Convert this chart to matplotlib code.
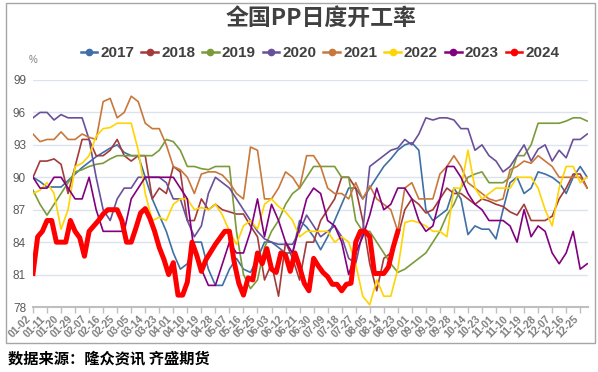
import numpy as np
import matplotlib
matplotlib.use("Agg")
import matplotlib.pyplot as plt
from matplotlib.lines import Line2D
from matplotlib.patches import Rectangle

# tick labels (every 9th trading-day category)
tick_labels = ["01-02", "01-11", "01-20", "01-29", "02-07", "02-16", "02-25", "03-05",
               "03-14", "03-23", "04-01", "04-10", "04-19", "04-28", "05-07", "05-16",
               "05-25", "06-03", "06-12", "06-21", "06-30", "07-09", "07-18", "07-27",
               "08-05", "08-14", "08-23", "09-01", "09-10", "09-19", "09-28", "10-14",
               "10-23", "11-01", "11-10", "11-19", "11-28", "12-07", "12-16", "12-25"]
yticks = [78, 81, 84, 87, 90, 93, 96, 99]

# readings taken every 4.5 categories (2017-2023) and every 3 categories (2024)
s2017 = [90, 89.6, 89.1, 89.1, 89.1, 89.7, 90.3, 90.9, 91.4, 91.9, 92.3, 92.7, 93, 92.3, 92, 92,
         90, 88, 86.5, 85, 83, 81.5, 82, 84, 84, 81.5, 80, 80, 81.5, 82.5, 81.5, 81.2,
         82.5, 84, 84, 83.5, 83, 83, 86, 85.4, 84.5, 83.3, 84.5, 86, 87.5, 89, 89, 88,
         89, 90, 91, 91.7, 92.5, 93, 93.2, 92.5, 87, 86, 86.5, 87, 89, 88, 84.7, 85.5,
         85.2, 85.2, 84.3, 87, 89.5, 90, 88.5, 89, 90.5, 90.3, 90, 89.5, 88.5, 90, 91, 90]
s2018 = [90, 91.5, 91.5, 91.7, 91.2, 88.5, 91, 93.5, 93.5, 92, 92, 92.5, 93.5, 92, 91.5, 92,
         92, 88, 89, 88.5, 91, 90.5, 86, 86, 88, 87, 87.5, 87, 86.8, 86.6, 86.6, 85.5,
         84.5, 80.5, 82, 79, 84, 82.5, 80.5, 84, 84, 86, 87, 88, 90, 90, 89, 86,
         82, 79.5, 82.5, 83, 84.5, 87, 88, 87.5, 86.7, 87, 88, 89, 88.5, 88.5, 88, 87.5,
         88, 87.8, 87.5, 87.3, 86.8, 86.5, 87.5, 86, 86, 86, 86.4, 88, 89, 90.3, 90.3, 89]
s2019 = [88.8, 87.5, 86.5, 87.5, 88.5, 89.5, 90.5, 90.7, 91, 91.2, 91.3, 91.7, 92, 92, 92, 92,
         92, 92, 92.5, 93.5, 93.3, 92.5, 91, 91, 90.8, 90.7, 91, 91, 91, 85, 81, 79.7,
         80.5, 83.5, 85, 86, 87.5, 88.5, 89, 90, 91, 91, 91, 91, 90, 90, 86, 85,
         85, 84, 83, 82, 81.2, 81.5, 82, 82.5, 83, 84, 85, 86.5, 87.5, 89, 90, 90.3,
         90.5, 89.5, 89.5, 89.5, 90, 92, 92, 93, 95, 95, 95, 95, 95.2, 95.5, 95.5, 95.2]
s2020 = [95.5, 96, 96, 95.3, 95.8, 95.5, 95.5, 95.5, 93.5, 90, 87, 86, 88, 89, 89, 90,
         90, 90, 90, 89.5, 88, 88, 86, 84.5, 85.5, 88.5, 90, 89.5, 89, 88, 87, 86,
         85, 84.3, 84, 83.8, 83.8, 83.8, 85, 86.5, 85.5, 84.5, 85, 85.5, 84.5, 82.5, 82, 85,
         91, 91.5, 92, 92.5, 92.7, 93.5, 93, 94, 95.5, 95.3, 95.5, 95.5, 95.3, 94.5, 94.5, 92.5,
         93, 92, 91.5, 90.5, 91, 92, 93, 91.5, 92.6, 93, 91.5, 92.5, 91.8, 93.5, 93.5, 94]
s2021 = [94, 93.3, 93.5, 93.5, 94.2, 93.5, 93.5, 94, 93.7, 93.5, 97, 97.3, 95.5, 96, 97.5, 97,
         95, 94.5, 94.5, 93, 91, 90.7, 90, 88.5, 90.3, 90.5, 90.5, 90.2, 89.5, 88.5, 88, 92.8,
         92.5, 88, 88, 89, 90.5, 90, 89, 92, 92, 91, 89, 88.5, 88.5, 88, 89.5, 88,
         89.2, 88, 87.5, 87, 85, 89, 89.5, 88, 88, 88, 90.3, 91, 92, 91, 89.5, 89,
         88.5, 88, 87.8, 88, 90.7, 91, 91.5, 91.3, 92, 91.5, 91, 90, 90, 90, 90, 89]
s2022 = [88.5, 88.8, 89.5, 88.5, 85.2, 87, 91, 91.3, 92, 93.8, 94.5, 94.6, 95, 95, 95, 92.5,
         88.5, 86, 86.3, 86, 87.5, 88, 88, 87, 87.2, 87, 87.5, 86.5, 85, 83.8, 85.5, 86,
         85.2, 87.5, 88, 87.3, 86.8, 86, 84.5, 85, 85, 85, 85, 84, 84.5, 84, 82, 79,
         78.2, 80.5, 79, 79, 81.5, 85.8, 86, 85.8, 85.5, 85, 85, 84.5, 89, 89, 92.5, 89,
         88, 88.5, 89, 89, 89, 90, 90, 90, 89, 87, 85.5, 89, 91, 91, 89.5, 90]
s2023 = [90, 89, 89, 90, 90, 89, 88, 88, 90, 87, 85, 85, 85, 85, 88, 89,
         90, 90, 90, 90, 90, 89, 88, 83, 81.5, 80, 80, 82, 84, 83, 83, 85,
         88, 84.5, 87.5, 86, 84, 83, 85.5, 88, 89, 88.5, 86, 85.5, 84, 81, 83, 84.5,
         86.5, 89, 87, 87.5, 89, 89, 88, 86, 85, 85.5, 88, 91, 91, 90, 88.5, 87.5,
         87, 86, 86, 86, 85.5, 84, 87, 84.5, 85.5, 85, 83, 82, 83, 85, 81.5, 82]
s2024 = [81.1, 84.5, 85, 86, 86, 84, 84, 84, 86, 85, 84.4, 82.7, 85, 85.5, 86, 86.6,
         87, 87, 87, 86, 84, 84, 85.3, 86.7, 87.1, 86.2, 85, 83.5, 82.4, 81, 82.1, 79.1,
         79.1, 80.3, 84, 82.8, 81.3, 82.4, 83.1, 83.8, 84.4, 85, 85, 82.2, 80.2, 79.1, 80.7, 80.5,
         83, 82, 83.4, 81.5, 81.2, 83, 82.8, 81.3, 83, 81.7, 80.2, 79.5, 82.5, 81.8, 81.2, 80.8,
         80.1, 80.1, 79.5, 80.1, 80.2, 84, 85, 85, 84.5, 81.1, 81.1, 81.1, 81.7, 83.5, 85]

years = ["2017", "2018", "2019", "2020", "2021", "2022", "2023", "2024"]
colors = ["#3F6FA5", "#A33B3B", "#7B9B3B", "#6A509A", "#C8783A", "#FFD400", "#82007F", "#FF0000"]
series = [s2017, s2018, s2019, s2020, s2021, s2022, s2023, s2024]
steps = [4.5] * 7 + [3]

lab = "Liberation Sans"
cjk = ["Noto Sans CJK SC", "DejaVu Sans"]

fig = plt.figure(figsize=(5.98, 3.72), dpi=100)
fig.patches.append(Rectangle((6 / 598, 1 - 343 / 372), 589 / 598, 340 / 372,
                             transform=fig.transFigure, fill=False, ec="#A6A6A6", lw=1))
ax = fig.add_axes([33 / 598, 1 - 307 / 372, 555 / 598, 227 / 372])

for yr, c, vals, st in zip(years, colors, series, steps):
    x = np.arange(len(vals)) * st
    ax.plot(x, vals, color=c, lw=3.6 if yr == "2024" else 1.2, zorder=3 if yr == "2024" else 2,
            solid_joinstyle="round")

ax.set_xlim(0, 356)
ax.set_ylim(78, 99)
ax.set_yticks(yticks)
ax.set_yticklabels([str(v) for v in yticks], fontsize=8.5, color="#595959", family=lab)
ax.tick_params(axis="y", length=0, pad=5)
ax.set_xticks(np.arange(len(tick_labels)) * 9)
ax.set_xticklabels(tick_labels, rotation=45, ha="right", fontsize=7.5, color="#7F7F7F",
                   fontweight="bold", family=lab)
ax.tick_params(axis="x", length=4, width=1, color="#BFBFBF", pad=1)
for sp in ["left", "right", "top"]:
    ax.spines[sp].set_visible(False)
ax.spines["bottom"].set_color("#BFBFBF")
ax.spines["bottom"].set_linewidth(1.5)
ax.grid(axis="y", color="#DCE3EE", lw=1)
ax.set_axisbelow(True)

fig.text(33 / 598, 1 - 60 / 372, "%", fontsize=7, color="#7F7F7F", ha="center", va="center",
         family=lab)
fig.text(321 / 598, 1 - 18 / 372, "全国PP日度开工率", fontsize=16.5, fontweight="bold",
         color="#404040", ha="center", va="center", family=cjk)

handles = [Line2D([], [], color=c, lw=1.8, marker="o", markersize=4.5) for c in colors]
fig.legend(handles, years, loc="center", bbox_to_anchor=(320 / 598, 1 - 53 / 372), ncol=8,
           frameon=False, handlelength=1.1, handletextpad=0.2, columnspacing=0.45,
           prop={"family": lab, "size": 11, "weight": "bold"}, labelcolor="#404040")

fig.text(8 / 598, 1 - 358 / 372, "数据来源：隆众资讯 齐盛期货", fontsize=11, fontweight="bold",
         color="#000000", ha="left", va="center", family=cjk)

fig.savefig("out.png", dpi=100)
